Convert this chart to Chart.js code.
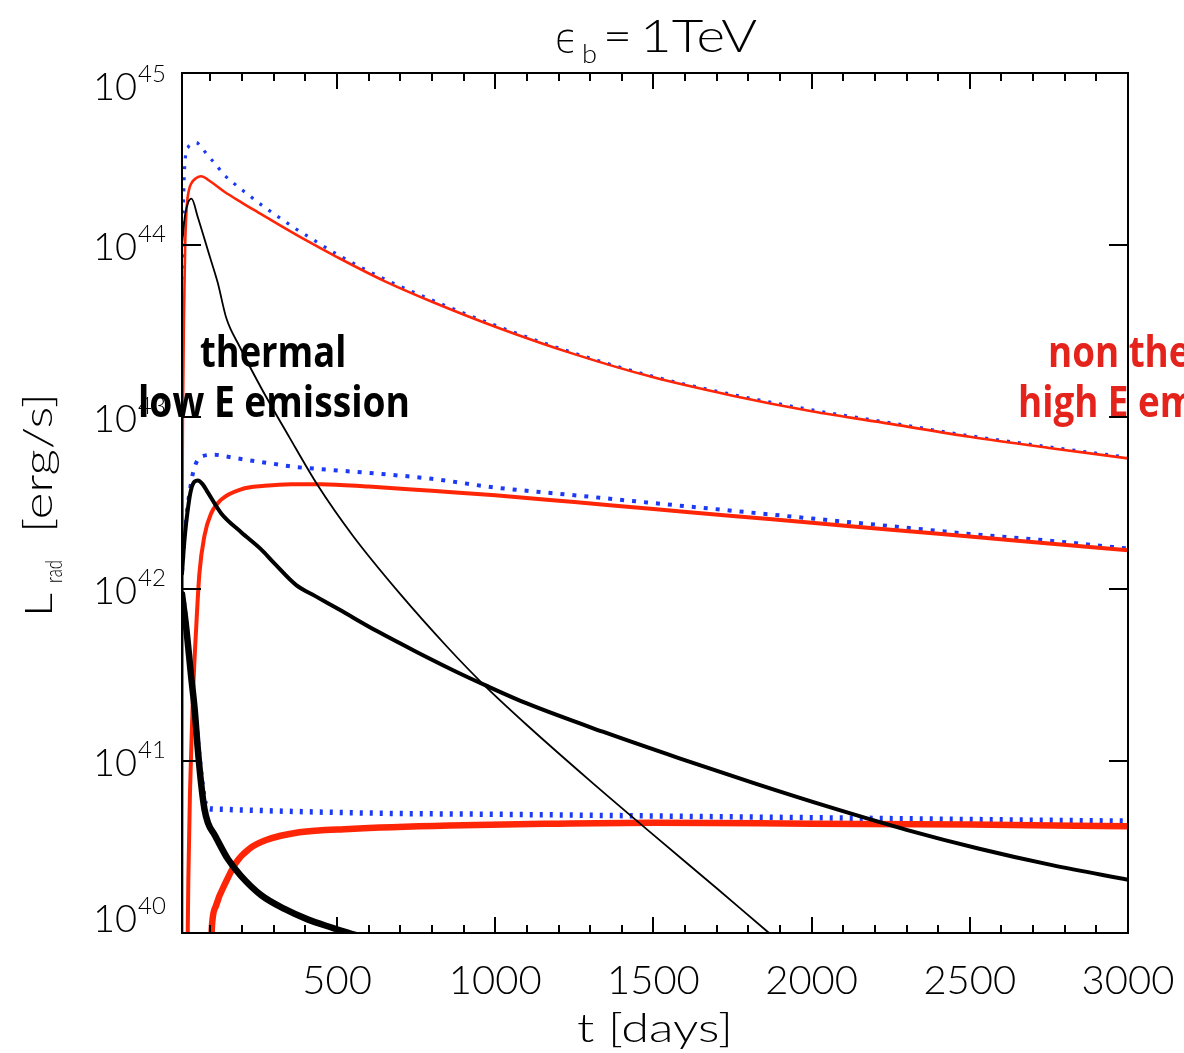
<!DOCTYPE html>
<html>
<head>
<meta charset="utf-8">
<script src="https://cdn.jsdelivr.net/npm/chart.js@4.4.1/dist/chart.umd.min.js"></script>
<style>
  html, body { margin: 0; padding: 0; background: #fff; overflow: hidden; }
  canvas { display: block; }
</style>
</head>
<body>
<canvas id="chart" width="1184" height="1053"></canvas>
<script>
// Radiated luminosity L_rad [erg/s] versus time t [days], for eps_b = 1 TeV.
// Three model cases: thermal (low E) emission in black, non-thermal (high E)
// emission in red, and their total as blue dots.

// --- case 1 (highest curves)
const tThermal1 = [10, 20, 30, 40, 60, 80, 100, 123, 150, 192, 260, 350, 440, 550, 700, 850, 960, 1100, 1300, 1500, 1700, 1860, 1950];
const lThermal1 = [1.00e44, 1.51e44, 1.78e44, 1.86e44, 1.45e44, 1.10e44, 8.32e43, 6.03e43, 3.76e43, 2.57e43, 1.48e43, 7.59e42, 3.98e42, 2.04e42, 9.33e41, 4.57e41, 2.82e41, 1.62e41, 7.67e40, 3.72e40, 1.82e40, 1.02e40, 7.41e39];

const tNonThermal1 = [10, 12, 14, 16, 20, 25, 32, 40, 55, 70, 100, 144, 200, 250, 320, 400, 500, 650, 800, 1000, 1250, 1500, 1750, 2000, 2250, 2500, 2750, 3000];
const lNonThermal1 = [1.0e39, 3.16e42, 1.58e43, 3.63e43, 1.00e44, 1.66e44, 2.09e44, 2.29e44, 2.45e44, 2.51e44, 2.34e44, 2.04e44, 1.76e44, 1.55e44, 1.30e44, 1.07e44, 8.51e43, 6.17e43, 4.68e43, 3.35e43, 2.32e43, 1.70e43, 1.33e43, 1.08e43, 9.12e42, 7.67e42, 6.61e42, 5.75e42];

const tTotal1 = [10, 12, 14, 17, 22, 30, 45, 55, 70, 92, 118, 142, 167, 194, 220, 250, 279, 309, 341, 373, 402, 500, 650, 800, 1000, 1250, 1500, 1750, 2000, 2250, 2500, 2750, 3000];
const lTotal1 = [6.31e43, 1.00e44, 1.58e44, 2.51e44, 3.39e44, 3.72e44, 3.89e44, 3.94e44, 3.72e44, 3.31e44, 2.92e44, 2.57e44, 2.34e44, 2.13e44, 1.96e44, 1.77e44, 1.62e44, 1.48e44, 1.35e44, 1.23e44, 1.14e44, 8.83e43, 6.34e43, 4.79e43, 3.41e43, 2.35e43, 1.72e43, 1.35e43, 1.10e43, 9.25e42, 7.78e42, 6.70e42, 5.83e42];

// --- case 2 (middle curves)
const tThermal2 = [10, 15, 23, 39, 60, 75, 92, 134, 197, 260, 302, 372, 430, 507, 626, 750, 870, 970, 1100, 1340, 1580, 1820, 2060, 2300, 2530, 2760, 3000];
const lThermal2 = [1.23e42, 1.66e42, 2.40e42, 3.80e42, 4.27e42, 4.07e42, 3.63e42, 2.75e42, 2.14e42, 1.70e42, 1.41e42, 1.05e42, 9.12e41, 7.59e41, 5.69e41, 4.32e41, 3.35e41, 2.75e41, 2.16e41, 1.48e41, 1.04e41, 7.41e40, 5.37e40, 3.98e40, 3.09e40, 2.48e40, 2.04e40];

const tNonThermal2 = [27, 30, 35, 39, 45, 55, 65, 81, 102, 134, 197, 271, 355, 450, 600, 800, 1000, 1250, 1500, 1750, 2000, 2250, 2500, 2750, 3000];
const lNonThermal2 = [6.31e39, 2.00e40, 6.31e40, 1.12e41, 2.51e41, 6.03e41, 1.23e42, 2.04e42, 2.75e42, 3.31e42, 3.80e42, 3.98e42, 4.07e42, 4.07e42, 3.94e42, 3.72e42, 3.51e42, 3.20e42, 2.92e42, 2.66e42, 2.43e42, 2.21e42, 2.02e42, 1.84e42, 1.68e42];

const tTotal2 = [10, 23, 39, 50, 71, 113, 150, 218, 292, 365, 428, 600, 800, 1000, 1250, 1500, 1750, 2000, 2250, 2500, 2750, 3000];
const lTotal2 = [1.26e42, 2.51e42, 4.17e42, 5.13e42, 5.89e42, 6.03e42, 5.89e42, 5.62e42, 5.37e42, 5.13e42, 5.01e42, 4.73e42, 4.37e42, 3.89e42, 3.51e42, 3.16e42, 2.85e42, 2.57e42, 2.32e42, 2.09e42, 1.91e42, 1.72e42];

// --- case 3 (lowest curves)
const tThermal3 = [10, 23, 39, 50, 60, 71, 81, 92, 113, 155, 197, 260, 334, 407, 480, 545, 620];
const lThermal3 = [9.33e41, 6.03e41, 3.09e41, 2.00e41, 1.17e41, 7.24e40, 5.25e40, 4.37e40, 3.72e40, 2.69e40, 2.14e40, 1.66e40, 1.38e40, 1.20e40, 1.08e40, 9.90e39, 9.12e39];

const tNonThermal3 = [100, 105, 118, 150, 181, 223, 276, 381, 539, 855, 1200, 1500, 2000, 2500, 3000];
const lNonThermal3 = [7.08e39, 1.12e40, 1.45e40, 2.00e40, 2.57e40, 3.09e40, 3.47e40, 3.85e40, 4.03e40, 4.22e40, 4.32e40, 4.37e40, 4.32e40, 4.27e40, 4.17e40];

const tTotal3 = [10, 23, 39, 50, 60, 71, 81, 92, 120, 200, 400, 700, 1000, 1500, 2000, 2500, 3000];
const lTotal3 = [9.55e41, 6.17e41, 3.16e41, 2.04e41, 1.23e41, 7.94e40, 5.89e40, 5.31e40, 5.25e40, 5.19e40, 5.07e40, 4.95e40, 4.90e40, 4.79e40, 4.68e40, 4.57e40, 4.47e40];

// --- axes
const xRange = [10, 3000];
const yRange = [1e40, 1e45];
const xMajorTicks = [500, 1000, 1500, 2000, 2500, 3000];
const xTickLabels = ['500', '1000', '1500', '2000', '2500', '3000'];
const xMinorTicks = [100, 200, 300, 400, 600, 700, 800, 900, 1100, 1200, 1300, 1400, 1600, 1700, 1800, 1900,
                     2100, 2200, 2300, 2400, 2600, 2700, 2800, 2900];
const yMajorTicks = [1e40, 1e41, 1e42, 1e43, 1e44, 1e45];
const yTickExponents = ['40', '41', '42', '43', '44', '45'];

const RED = 'rgb(255,38,8)';
const BLUE = 'rgb(28,58,245)';
const BLACK = '#000';

const pairs = (ts, ls) => ts.map((t, i) => ({ x: t, y: ls[i] }));

function line(ts, ls, color, width, order, dash) {
  return {
    data: pairs(ts, ls),
    borderColor: color,
    borderWidth: width,
    borderDash: dash || [],
    borderCapStyle: dash ? 'butt' : 'round',
    borderJoinStyle: 'round',
    pointRadius: 0,
    fill: false,
    cubicInterpolationMode: 'monotone',
    order: order,
    clip: 0
  };
}

const LIGHT = (px) => '300 ' + px + 'px Lato, "DejaVu Sans", sans-serif';

// draws text stretched horizontally so that it spans the given width
function fitted(ctx, text, x, y, width, align) {
  const w = ctx.measureText(text).width;
  const sx = width ? width / w : 1;
  ctx.save();
  ctx.translate(x, y);
  ctx.scale(sx, 1);
  ctx.textAlign = align || 'left';
  ctx.fillText(text, 0, 0);
  ctx.restore();
}

function squeezed(ctx, text, x, y, sx, align) {
  ctx.save();
  ctx.translate(x, y);
  ctx.scale(sx, 1);
  ctx.textAlign = align || 'left';
  ctx.fillText(text, 0, 0);
  ctx.restore();
}

const framePlugin = {
  id: 'frame',
  afterDatasetsDraw(chart) {
    const { ctx, chartArea: a } = chart;
    const xs = chart.scales.x, ys = chart.scales.y;
    ctx.save();
    ctx.textBaseline = 'alphabetic';

    // annotation labels
    ctx.font = 'bold 43px "Open Sans", "Noto Sans", sans-serif';
    ctx.fillStyle = '#000';
    squeezed(ctx, 'thermal', 200, 367, 0.845);
    squeezed(ctx, 'low E emission', 138, 417, 0.865);
    ctx.fillStyle = 'rgb(228,36,28)';
    squeezed(ctx, 'non thermal', 1048, 367, 0.855);
    squeezed(ctx, 'high E emission', 1018, 417, 0.855);

    // frame
    ctx.strokeStyle = '#000';
    ctx.lineWidth = 2;
    ctx.lineCap = 'butt';
    ctx.strokeRect(a.left, a.top, a.right - a.left, a.bottom - a.top);

    ctx.beginPath();
    for (const v of xMajorTicks) {
      const px = Math.round(xs.getPixelForValue(v));
      ctx.moveTo(px, a.bottom); ctx.lineTo(px, a.bottom - 16);
      ctx.moveTo(px, a.top); ctx.lineTo(px, a.top + 16);
    }
    for (const v of xMinorTicks) {
      const px = Math.round(xs.getPixelForValue(v));
      ctx.moveTo(px, a.bottom); ctx.lineTo(px, a.bottom - 8);
      ctx.moveTo(px, a.top); ctx.lineTo(px, a.top + 8);
    }
    for (const v of yMajorTicks) {
      const py = Math.round(ys.getPixelForValue(v));
      ctx.moveTo(a.left, py); ctx.lineTo(a.left + 19, py);
      ctx.moveTo(a.right, py); ctx.lineTo(a.right - 19, py);
    }
    ctx.stroke();

    // tick labels
    ctx.fillStyle = '#000';
    ctx.font = LIGHT(40);
    xMajorTicks.forEach((v, i) => {
      squeezed(ctx, xTickLabels[i], xs.getPixelForValue(v), 994, 1.0, 'center');
    });
    yMajorTicks.forEach((v, i) => {
      let base = ys.getPixelForValue(v) + 15;
      if (i === yMajorTicks.length - 1) base += 12;
      if (i === 0) base -= 16;
      ctx.font = LIGHT(38);
      squeezed(ctx, '10', 137, base, 1.0, 'right');
      ctx.font = LIGHT(24);
      squeezed(ctx, yTickExponents[i], 138, base - 18, 1.0, 'left');
    });

    // x axis title
    ctx.font = LIGHT(40);
    fitted(ctx, 't [days]', 577, 1042, 156, 'left');

    // y axis title, reading upwards
    ctx.save();
    ctx.translate(52, 617);
    ctx.rotate(-Math.PI / 2);
    ctx.font = LIGHT(38);
    fitted(ctx, 'L', 0, 0, 24, 'left');
    ctx.font = LIGHT(23);
    fitted(ctx, 'rad', 34, 10, 23, 'left');
    ctx.font = LIGHT(39);
    fitted(ctx, '[erg/s]', 84, 0, 140, 'left');
    ctx.restore();

    // title
    ctx.font = '300 40px "DejaVu Sans", sans-serif';
    fitted(ctx, '\u03F5', 555, 52, 23, 'left');
    ctx.font = LIGHT(26);
    fitted(ctx, 'b', 582, 63, 15, 'left');
    ctx.font = LIGHT(46);
    fitted(ctx, '=', 603, 52, 29, 'left');
    fitted(ctx, '1TeV', 640, 52, 117, 'left');

    ctx.restore();
  }
};

new Chart(document.getElementById('chart'), {
  type: 'line',
  data: {
    datasets: [
      line(tThermal1, lThermal1, BLACK, 1.8, 1),
      line(tThermal2, lThermal2, BLACK, 4, 1),
      line(tThermal3, lThermal3, BLACK, 6.5, 1),
      line(tNonThermal1, lNonThermal1, RED, 2.6, 2),
      line(tNonThermal2, lNonThermal2, RED, 4, 2),
      line(tNonThermal3, lNonThermal3, RED, 6.5, 2),
      line(tTotal1, lTotal1, BLUE, 3.2, 3, [3, 8]),
      line(tTotal2, lTotal2, BLUE, 4, 3, [4, 8]),
      line(tTotal3, lTotal3, BLUE, 5.5, 3, [3, 7])
    ]
  },
  options: {
    responsive: false,
    animation: false,
    layout: { padding: { left: 182, right: 56, top: 73, bottom: 120 } },
    plugins: { legend: { display: false }, tooltip: { enabled: false }, title: { display: false } },
    scales: {
      x: { type: 'linear', min: xRange[0], max: xRange[1], display: false },
      y: { type: 'logarithmic', min: yRange[0], max: yRange[1], display: false }
    }
  },
  plugins: [framePlugin]
});
</script>
</body>
</html>
